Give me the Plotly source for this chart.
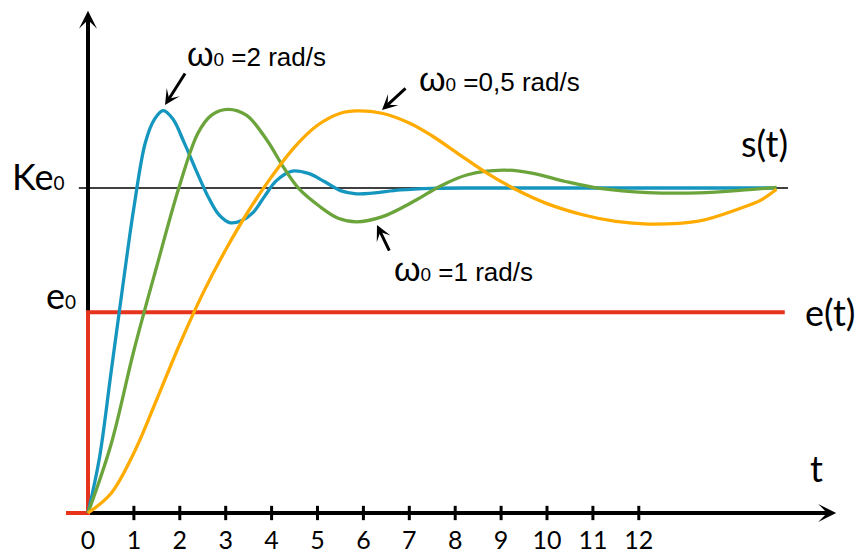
import plotly.graph_objects as go

# Normalised levels: final value K*e0 = 1, input step e0
KE0 = 1.0
E0 = 0.618

# Time ticks shown under the t axis
tick_vals = list(range(0, 13))
tick_text = [str(v) for v in tick_vals]

# Step responses s(t) for three natural frequencies
t_w2 = [0, 0.25, 0.5, 0.75, 1.0, 1.25, 1.45, 1.64, 1.85, 2.1, 2.35, 2.6, 2.85, 3.1,
        3.35, 3.6, 3.85, 4.1, 4.45, 4.8, 5.15, 5.5, 5.85, 6.2, 6.8, 7.5, 8.5, 10.0,
        12.0, 14.0, 15.0]
s_w2 = [0, 0.17, 0.43, 0.69, 0.94, 1.14, 1.212, 1.238, 1.212, 1.138, 1.056, 0.978,
        0.918, 0.893, 0.9, 0.925, 0.975, 1.022, 1.052, 1.045, 1.02, 0.992, 0.982,
        0.984, 0.994, 0.999, 1.0, 1.0, 1.0, 1.0, 1.0]

t_w1 = [0, 0.5, 1.0, 1.5, 2.0, 2.4, 2.7, 3.05, 3.45, 3.9, 4.25, 4.6, 5.05, 5.45, 5.85,
        6.4, 7.15, 7.65, 8.25, 9.05, 9.7, 10.4, 11.15, 12.2, 13.3, 14.4, 15.0]
s_w1 = [0, 0.21, 0.5, 0.76, 1.01, 1.17, 1.225, 1.242, 1.224, 1.147, 1.066, 0.997, 0.943,
        0.907, 0.896, 0.911, 0.963, 1.004, 1.04, 1.055, 1.045, 1.02, 0.999, 0.986,
        0.985, 0.995, 1.002]

t_w05 = [0, 0.5, 1.0, 1.5, 2.0, 2.5, 3.0, 3.5, 4.0, 4.5, 5.0, 5.5, 5.85, 6.4, 7.0, 7.5,
         8.1, 8.7, 9.3, 10.0, 10.8, 11.5, 12.2, 13.3, 14.2, 14.65, 15.0]
s_w05 = [0, 0.06, 0.185, 0.35, 0.52, 0.675, 0.81, 0.93, 1.035, 1.126, 1.193, 1.23,
         1.237, 1.23, 1.2, 1.16, 1.102, 1.045, 0.997, 0.952, 0.917, 0.897, 0.889, 0.898,
         0.937, 0.962, 0.996]

# Input step e(t)
t_step = [-0.48, 0, 0, 15.18]
e_step = [0, 0, E0, E0]

BLUE = "#1496bf"
GREEN = "#6ca43c"
ORANGE = "#ffab00"
RED = "#e8331c"

X_RANGE = [-1.9172, 16.8627]
Y_RANGE = [-0.12615, 1.57846]
X_TIP = 16.3
Y_TIP = 1.545

LABEL_FONT = "Lato, 'Open Sans', sans-serif"
OMEGA_FONT = "'Liberation Sans', Arial, sans-serif"

fig = go.Figure()

# e(t) step
fig.add_trace(go.Scatter(x=t_step, y=e_step, mode="lines",
                         line=dict(color=RED, width=4), hoverinfo="skip"))
# final value reference line
fig.add_trace(go.Scatter(x=[-0.2, 15.25], y=[KE0, KE0], mode="lines",
                         line=dict(color="black", width=1.3), hoverinfo="skip"))

for tx, sy, col in [(t_w2, s_w2, BLUE), (t_w1, s_w1, GREEN), (t_w05, s_w05, ORANGE)]:
    fig.add_trace(go.Scatter(x=tx, y=sy, mode="lines",
                             line=dict(color=col, width=3.3, shape="spline", smoothing=1.0),
                             hoverinfo="skip"))

# tick labels
fig.add_trace(go.Scatter(x=tick_vals, y=[-0.092] * len(tick_vals), mode="text",
                         text=tick_text, textposition="middle center",
                         textfont=dict(family=LABEL_FONT, size=25, color="black"),
                         hoverinfo="skip"))

shapes = []
# axes lines
shapes.append(dict(type="line", x0=0, y0=0, x1=X_TIP - 0.3, y1=0,
                   line=dict(color="black", width=4), layer="below"))
shapes.append(dict(type="line", x0=0, y0=0, x1=0, y1=Y_TIP - 0.04,
                   line=dict(color="black", width=4), layer="below"))
# tick marks
for v in tick_vals[1:]:
    shapes.append(dict(type="line", x0=v, y0=-0.022, x1=v, y1=0.022,
                       line=dict(color="black", width=3), layer="below"))

annotations = []
# axis arrowheads
annotations.append(dict(x=X_TIP, y=0, ax=X_TIP - 1.2, ay=0, xref="x", yref="y",
                        axref="x", ayref="y", text="", showarrow=True,
                        arrowhead=3, arrowwidth=4, arrowsize=0.75, arrowcolor="black"))
annotations.append(dict(x=0, y=Y_TIP, ax=0, ay=Y_TIP - 0.15, xref="x", yref="y",
                        axref="x", ayref="y", text="", showarrow=True,
                        arrowhead=3, arrowwidth=4, arrowsize=0.75, arrowcolor="black"))

# pointer arrows for the frequency labels
for (hx, hy, tx_, ty_) in [(1.678, 1.255, 2.135, 1.357),
                           (6.405, 1.240, 6.950, 1.311),
                           (6.296, 0.886, 6.580, 0.803)]:
    annotations.append(dict(x=hx, y=hy, ax=tx_, ay=ty_, xref="x", yref="y",
                            axref="x", ayref="y", text="", showarrow=True,
                            arrowhead=3, arrowwidth=3, arrowsize=0.85, arrowcolor="black"))


def omega_label(value):
    return ('<span style="font-size:34px">ω</span><span style="font-size:19px">0</span>'
            ' =' + value + ' rad/s')


for txt, x, y in [(omega_label("2"), 2.113, 1.412),
                  (omega_label("0,5"), 7.168, 1.335),
                  (omega_label("1"), 6.623, 0.752)]:
    annotations.append(dict(x=x, y=y, xref="x", yref="y", text=txt, showarrow=False,
                            xanchor="left", yanchor="middle",
                            font=dict(family=OMEGA_FONT, size=26, color="black")))

for txt, x, y, sz in [('Ke<span style="font-size:19px">0</span>', -1.69, 1.038, 36),
                      ('e<span style="font-size:19px">0</span>', -0.95, 0.672, 36),
                      ("s(t)", 14.18, 1.14, 36),
                      ("e(t)", 15.57, 0.62, 36),
                      ("t", 15.68, 0.14, 36)]:
    annotations.append(dict(x=x, y=y, xref="x", yref="y", text=txt, showarrow=False,
                            xanchor="left", yanchor="middle",
                            font=dict(family=LABEL_FONT, size=sz, color="black")))

fig.update_layout(
    width=862, height=554,
    margin=dict(l=0, r=0, t=0, b=0),
    paper_bgcolor="white", plot_bgcolor="white",
    showlegend=False,
    xaxis=dict(range=X_RANGE, visible=False, fixedrange=True),
    yaxis=dict(range=Y_RANGE, visible=False, fixedrange=True),
    shapes=shapes, annotations=annotations,
)

fig.write_html("out.html")
